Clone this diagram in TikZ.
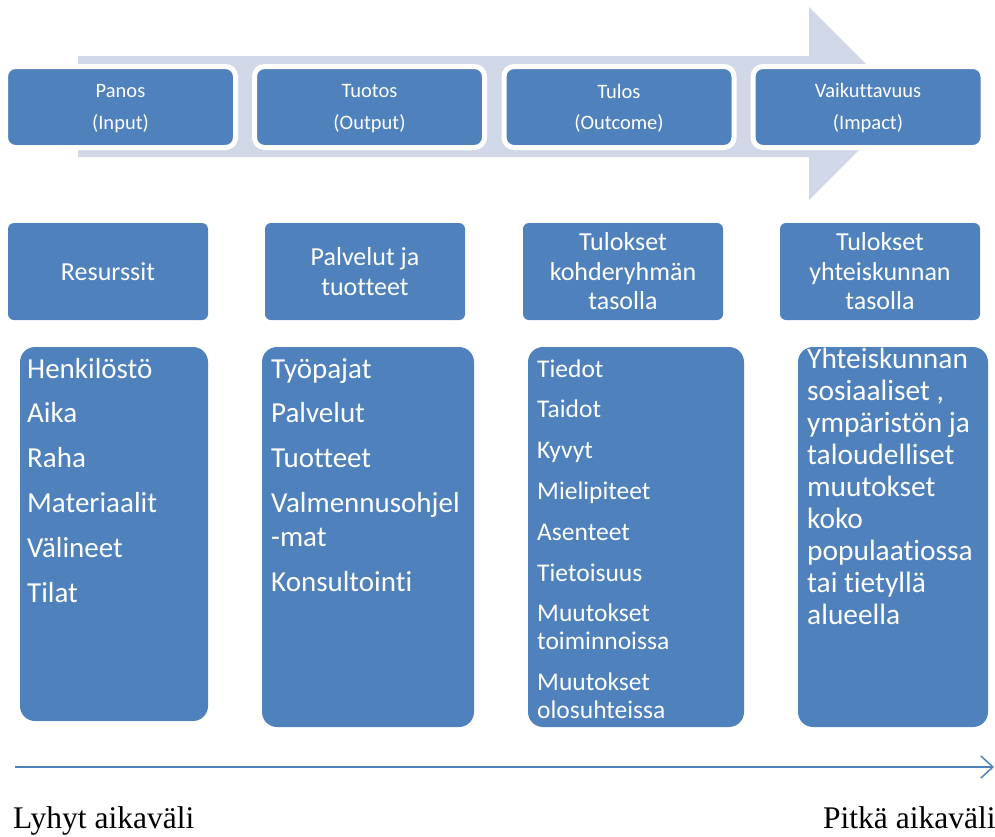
\documentclass[tikz,border=0pt]{standalone}
\usepackage{fontspec}
\setmainfont{Carlito}[Ligatures={NoCommon}]
\newfontfamily\serifTNR{Liberation Serif}
\usetikzlibrary{arrows.meta}
\definecolor{boxblue}{HTML}{4F81BD}
\definecolor{arrowgray}{HTML}{D0D8E8}
\newcommand{\topstrut}{\rule{0pt}{16.5pt}}
\begin{document}
\begin{tikzpicture}[x=1pt,y=-1pt,
 topbox/.style={fill=boxblue, draw=white, line width=5pt, rounded corners=10pt, minimum width=230pt, minimum height=81pt, inner sep=0pt, text=white, align=center, font=\fontsize{20.5}{31.5}\selectfont},
 midbox/.style={fill=boxblue, draw=none, rounded corners=6pt, minimum width=200pt, minimum height=97pt, inner sep=0pt, text=white, align=center, font=\fontsize{26}{29.5}\selectfont},
 listbox/.style={fill=boxblue, draw=none, rounded corners=15pt, inner sep=0pt},
 listtext/.style={text=white, inner sep=0pt, anchor=base west},
 timeline/.style={draw=boxblue, line width=1.5pt, -{Straight Barb[length=12pt,width=22pt]}},
 timelabel/.style={inner sep=0pt, anchor=base west, font=\serifTNR\fontsize{31.5}{36}\selectfont}
]
\useasboundingbox (0,0) rectangle (995,836);
% big background arrow
\fill[arrowgray] (78,56) -- (809,56) -- (809,7) -- (905.5,103.5) -- (809,200) -- (809,157) -- (78,157) -- cycle;
% top row
\node[topbox] (panos) at (120.5,107) {\topstrut Panos\\(Input)};
\node[topbox] (tuotos) at (369.5,107) {\topstrut Tuotos\\(Output)};
\node[topbox] (tulos) at (619,107) {\topstrut Tulos\\(Outcome)};
\node[topbox] (vaik) at (868,107) {\topstrut Vaikuttavuus\\(Impact)};
% middle row
\node[midbox] (resurssit) at (108,271.5) {Resurssit};
\node[midbox] (palvelut) at (365,271.5) {Palvelut ja\\tuotteet};
\node[midbox] (kohde) at (623,271.5) {Tulokset\\kohderyhmän\\tasolla};
\node[midbox] (yhteis) at (880,271.5) {Tulokset\\yhteiskunnan\\tasolla};
% list boxes
\node[listbox, minimum width=188pt, minimum height=374pt] (boxA) at (114,534) {};
\node[listbox, minimum width=212pt, minimum height=380pt] (boxB) at (368,537) {};
\node[listbox, minimum width=216pt, minimum height=380pt] (boxC) at (636,537) {};
\node[listbox, minimum width=190pt, minimum height=380pt] (boxD) at (893,537) {};
% list texts
\node[listtext, font=\fontsize{29}{44.8}\selectfont] (textA) at (27,378)
 {\vtop{\hbox{Henkilöstö}\hbox{Aika}\hbox{Raha}\hbox{Materiaalit}\hbox{Välineet}\hbox{Tilat}}};
\node[listtext, font=\fontsize{29}{44.8}\selectfont] (textB) at (271,378)
 {\vtop{\hbox{Työpajat}\hbox{Palvelut}\hbox{Tuotteet}\hbox{Valmennusohjel}\vskip-10.8pt\hbox{-mat}\hbox{Konsultointi}}};
\node[listtext, font=\fontsize{25.5}{40.8}\selectfont] (textC) at (537,377)
 {\vtop{\hbox{Tiedot}\hbox{Taidot}\hbox{Kyvyt}\hbox{Mielipiteet}\hbox{Asenteet}\hbox{Tietoisuus}\hbox{Muutokset}\vskip-12.8pt\hbox{toiminnoissa}\hbox{Muutokset}\vskip-12.8pt\hbox{olosuhteissa}}};
\node[listtext, font=\fontsize{29.4}{32.1}\selectfont] (textD) at (807,368)
 {\vtop{\hbox{Yhteiskunnan}\hbox{sosiaaliset ,}\hbox{ympäristön ja}\hbox{taloudelliset}\hbox{muutokset}\hbox{koko}\hbox{populaatiossa}\hbox{tai tietyllä}\hbox{alueella}}};
% timeline
\coordinate (tstart) at (15,767);
\coordinate (tend) at (994,767);
\draw[timeline] (tstart) -- (tend);
\node[timelabel] (short) at (13,828) {Lyhyt aikaväli};
\node[timelabel] (long) at (823,828) {Pitkä aikaväli};
\end{tikzpicture}
\end{document}
